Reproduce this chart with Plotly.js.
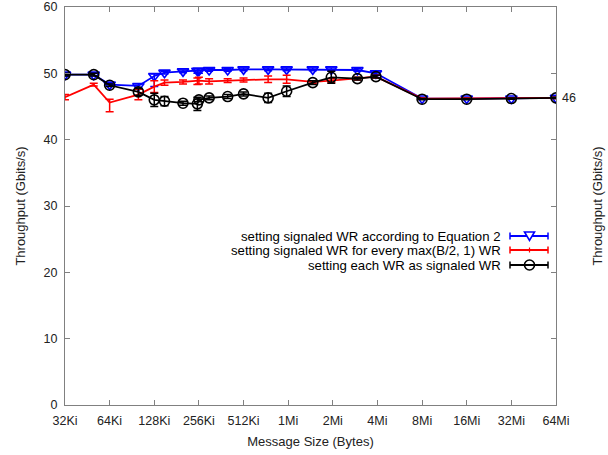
<!DOCTYPE html>
<html>
<head>
<meta charset="utf-8">
<script src="https://cdn.plot.ly/plotly-3.0.1.min.js"></script>
<style>html,body{margin:0;padding:0;background:#fff;}#chart{width:608px;height:455px;}</style>
</head>
<body>
<div id="chart"></div>
<script>
// Message sizes in KiB
const sizesKi = [32, 50, 64, 100, 128, 150, 200, 250, 256, 300, 400, 512, 750, 1000, 1500, 2000, 3000, 4000, 8192, 16384, 32768, 65536];

const seriesNames = [
  "setting signaled WR according to Equation 2",
  "setting signaled WR for every max(B/2, 1) WR",
  "setting each WR as signaled WR"
];

const eq2Values   = [49.8, 49.8, 48.3, 48.1, 49.6, 50.1, 50.3, 50.4, 50.4, 50.5, 50.5, 50.6, 50.6, 50.6, 50.6, 50.6, 50.5, 50.0, 46.2, 46.2, 46.2, 46.3];
const eq2ErrPlus  = [0.2, 0.2, 0.2, 0.3, 0.3, 0.2, 0.2, 0.3, 0.3, 0.2, 0.2, 0.2, 0.2, 0.2, 0.2, 0.2, 0.2, 0.2, 0.1, 0.1, 0.1, 0.1];
const eq2ErrMinus = [0.2, 0.2, 0.2, 0.3, 1.6, 0.2, 0.2, 0.4, 0.4, 0.2, 0.2, 0.2, 0.2, 0.2, 0.2, 0.2, 0.2, 0.2, 0.1, 0.1, 0.1, 0.1];

const maxValues   = [46.4, 48.3, 45.6, 46.8, 48.0, 48.6, 48.7, 48.8, 48.9, 48.8, 48.9, 49.0, 49.1, 49.1, 48.7, 48.9, 49.2, 49.5, 46.2, 46.2, 46.2, 46.3];
const maxErrPlus  = [0.4, 0.2, 0.5, 0.8, 0.9, 0.4, 0.3, 0.5, 0.5, 0.4, 0.3, 0.3, 0.5, 0.6, 0.2, 0.3, 0.2, 0.2, 0.1, 0.1, 0.1, 0.1];
const maxErrMinus = [0.4, 0.2, 1.4, 0.8, 0.9, 0.4, 0.3, 0.5, 0.5, 0.4, 0.3, 0.3, 0.5, 0.6, 0.2, 0.3, 0.2, 0.2, 0.1, 0.1, 0.1, 0.1];

const eachValues  = [49.8, 49.8, 48.2, 47.2, 46.0, 45.8, 45.5, 45.4, 46.0, 46.3, 46.5, 46.9, 46.3, 47.3, 48.6, 49.4, 49.2, 49.5, 46.1, 46.1, 46.2, 46.3];
const eachErr     = [0.2, 0.2, 0.2, 0.5, 1.0, 0.7, 0.3, 1.0, 0.3, 0.3, 0.3, 0.3, 0.7, 0.8, 0.3, 0.9, 0.2, 0.2, 0.1, 0.1, 0.1, 0.1];

const tickValsKi = [32, 64, 128, 256, 512, 1024, 2048, 4096, 8192, 16384, 32768, 65536];
const tickLabels = ["32Ki", "64Ki", "128Ki", "256Ki", "512Ki", "1Mi", "2Mi", "4Mi", "8Mi", "16Mi", "32Mi", "64Mi"];

const y2TickVals = [46.3];
const y2TickText = ["46"];

const colors = ["#0000ff", "#ff0000", "#000000"];
const FONT = "'Liberation Sans', Arial, sans-serif";
const AXC = "#808080";

const traces = [
  {
    x: sizesKi, y: eq2Values, type: "scatter", mode: "lines+markers", name: seriesNames[0],
    line: {color: colors[0], width: 1.8},
    marker: {symbol: "triangle-down-open", size: 10, color: colors[0], line: {width: 1.6, color: colors[0]}},
    error_y: {type: "data", symmetric: false, array: eq2ErrPlus, arrayminus: eq2ErrMinus, color: colors[0], thickness: 1.5, width: 4},
    showlegend: false
  },
  {
    x: sizesKi, y: maxValues, type: "scatter", mode: "lines", name: seriesNames[1],
    line: {color: colors[1], width: 1.8},
    error_y: {type: "data", symmetric: false, array: maxErrPlus, arrayminus: maxErrMinus, color: colors[1], thickness: 1.5, width: 4},
    showlegend: false
  },
  {
    x: sizesKi, y: eachValues, type: "scatter", mode: "lines+markers", name: seriesNames[2],
    line: {color: colors[2], width: 1.8},
    marker: {symbol: "circle-open", size: 10, color: colors[2], line: {width: 1.6, color: colors[2]}},
    error_y: {type: "data", array: eachErr, color: colors[2], thickness: 1.5, width: 4},
    showlegend: false
  }
];

// plot area in pixels
const L = 65, R = 556, T = 7, B = 405;
const W = 608, H = 455;
const px = x => (x - L) / (R - L);
const py = y => 1 - (y - T) / (B - T);

// manual gnuplot-style legend (text, then sample)
const legendRows = [236, 250, 265];
const annotations = [];
const shapes = [];
legendRows.forEach((yy, i) => {
  annotations.push({
    xref: "paper", yref: "paper", x: px(503), y: py(yy), xanchor: "right", yanchor: "middle",
    text: seriesNames[i], showarrow: false, font: {family: FONT, size: 13.2, color: "#000"}
  });
  const c = colors[i];
  shapes.push({type: "line", xref: "paper", yref: "paper", x0: px(510), x1: px(548), y0: py(yy), y1: py(yy), line: {color: c, width: 1.8}});
  shapes.push({type: "line", xref: "paper", yref: "paper", x0: px(510), x1: px(510), y0: py(yy - 3.5), y1: py(yy + 3.5), line: {color: c, width: 1.5}});
  shapes.push({type: "line", xref: "paper", yref: "paper", x0: px(548), x1: px(548), y0: py(yy - 3.5), y1: py(yy + 3.5), line: {color: c, width: 1.5}});
  if (i === 0) {
    shapes.push({type: "path", xref: "paper", yref: "paper",
      path: `M ${px(524.5)} ${py(yy - 4)} L ${px(534.5)} ${py(yy - 4)} L ${px(529.5)} ${py(yy + 4.5)} Z`,
      line: {color: c, width: 1.6}, fillcolor: "#fff"});
  } else if (i === 1) {
    shapes.push({type: "line", xref: "paper", yref: "paper", x0: px(529.5), x1: px(529.5), y0: py(yy - 2.5), y1: py(yy + 2.5), line: {color: c, width: 1.2}});
  } else {
    shapes.push({type: "circle", xref: "paper", yref: "paper", x0: px(524.5), x1: px(534.5), y0: py(yy - 5), y1: py(yy + 5), line: {color: c, width: 1.6}, fillcolor: "rgba(0,0,0,0)"});
  }
});

const layout = {
  width: W, height: H,
  margin: {l: L, r: W - R, t: T, b: H - B, pad: 0},
  paper_bgcolor: "#fff", plot_bgcolor: "#fff",
  font: {family: FONT, size: 12, color: "#222"},
  showlegend: false,
  xaxis: {
    type: "log", range: [Math.log10(32), Math.log10(65536)],
    tickvals: tickValsKi, ticktext: tickLabels,
    ticks: "inside", ticklen: 5, tickcolor: AXC, tickwidth: 1, ticklabelstandoff: 4,
    showline: true, linecolor: AXC, linewidth: 1, mirror: "ticks",
    showgrid: false, zeroline: false,
    tickfont: {family: FONT, size: 12.5, color: "#222"},
    title: {text: "Message Size (Bytes)", font: {family: FONT, size: 13, color: "#222"}, standoff: 9}
  },
  yaxis: {
    range: [0, 60], dtick: 10, tick0: 0,
    ticks: "inside", ticklen: 5, tickcolor: AXC, tickwidth: 1, ticklabelstandoff: 4,
    showline: true, linecolor: AXC, linewidth: 1, mirror: "ticks",
    showgrid: false, zeroline: false,
    tickfont: {family: FONT, size: 12.5, color: "#222"},
    title: {text: "Throughput (Gbits/s)", font: {family: FONT, size: 13, color: "#222"}, standoff: 15}
  },
  yaxis2: {
    overlaying: "y", side: "right", range: [0, 60],
    tickvals: y2TickVals, ticktext: y2TickText, ticks: "", ticklabelstandoff: 5,
    showline: false, showgrid: false, zeroline: false,
    tickfont: {family: FONT, size: 12.5, color: "#222"},
    title: {text: "Throughput (Gbits/s)", font: {family: FONT, size: 13, color: "#222"}, standoff: 17}
  },
  annotations: annotations,
  shapes: shapes
};

// dummy invisible trace to activate yaxis2
traces.push({x: [sizesKi[0]], y: [eq2Values[0]], yaxis: "y2", type: "scatter", mode: "markers", marker: {opacity: 0}, hoverinfo: "skip", showlegend: false});

Plotly.newPlot("chart", traces, layout, {displayModeBar: false, staticPlot: true});
</script>
</body>
</html>
